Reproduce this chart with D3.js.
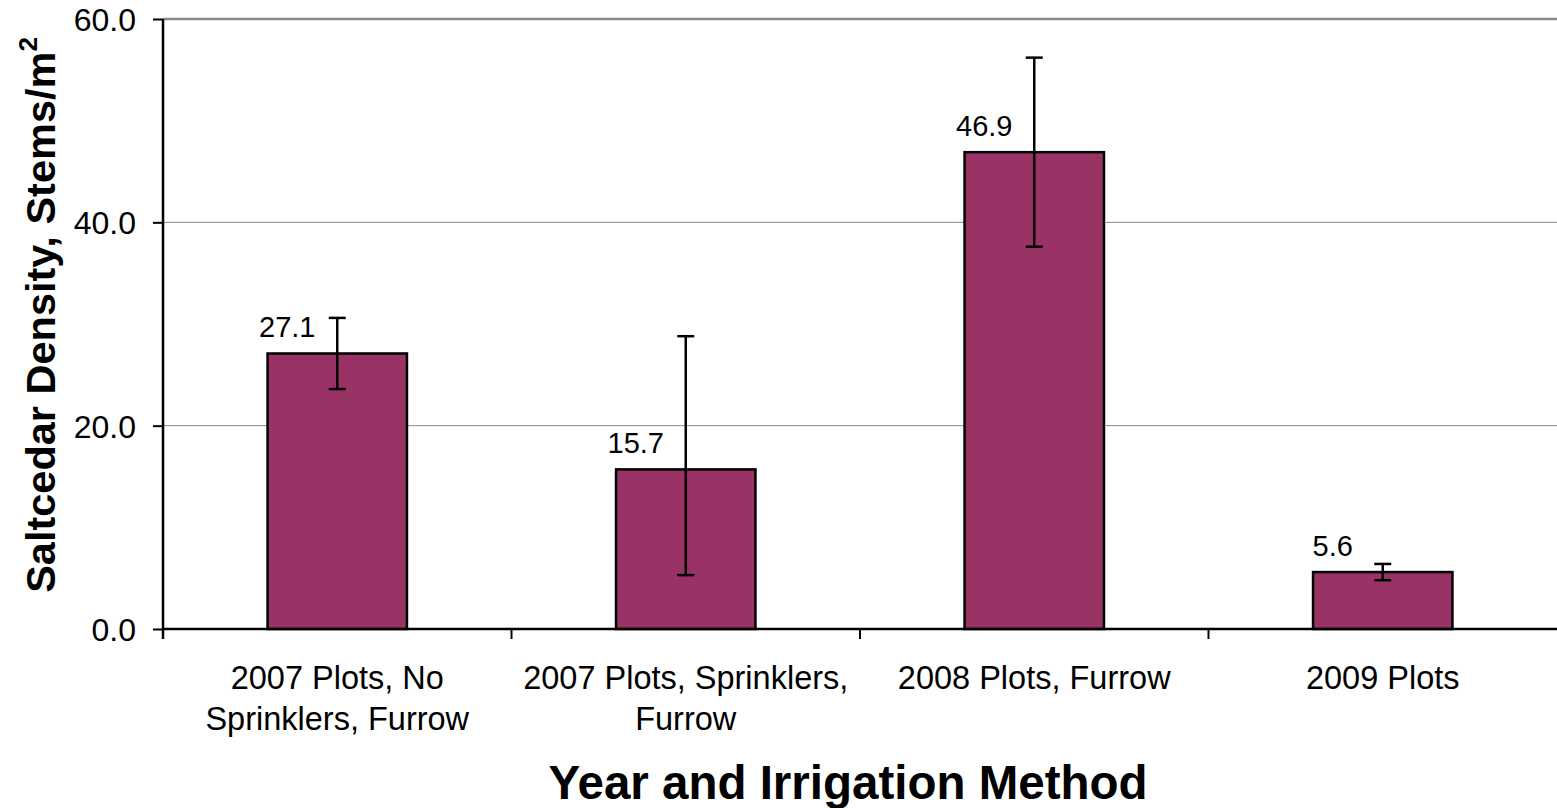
<!DOCTYPE html>
<html>
<head>
<meta charset="utf-8">
<script src="https://cdn.jsdelivr.net/npm/d3@7"></script>
<style>
  html, body { margin: 0; padding: 0; background: #fff; }
  svg { display: block; font-family: "Liberation Sans", Arial, sans-serif; }
</style>
</head>
<body>
<div id="chart"></div>
<script>
(function() {
    // data
    const categories = [
        ["2007 Plots, No", "Sprinklers, Furrow"],
        ["2007 Plots, Sprinklers,", "Furrow"],
        ["2008 Plots, Furrow"],
        ["2009 Plots"]
    ];
    const density = [27.1, 15.7, 46.9, 5.6];
    const errUpper = [30.6, 28.8, 56.2, 6.4];
    const errLower = [23.6, 5.3, 37.6, 4.8];
    const yTicks = [0, 20, 40, 60];

    const W = 1557, H = 808;
    const margin = {top: 19, right: 0, bottom: 179, left: 163};
    const width = W - margin.left - margin.right;
    const height = H - margin.top - margin.bottom;

    const svg = d3.select("#chart")
        .append("svg")
        .attr("width", W)
        .attr("height", H);

    const g = svg.append("g")
        .attr("transform", `translate(${margin.left},${margin.top})`);

    const keys = categories.map((c, i) => i);

    const x = d3.scaleBand()
        .domain(keys)
        .range([0, width])
        .paddingInner(0.6)
        .paddingOuter(0.3);

    // full-band scale used for the category boundary ticks
    const xBand = d3.scaleBand().domain(keys).range([0, width]);

    const y = d3.scaleLinear()
        .domain([0, 60])
        .range([height, 0]);

    // gridlines
    g.append("g")
        .selectAll("line")
        .data(yTicks.filter(d => d > 0))
        .enter()
        .append("line")
        .attr("x1", 0)
        .attr("x2", width)
        .attr("y1", d => y(d))
        .attr("y2", d => y(d))
        .attr("stroke", "#8a8a8a")
        .attr("stroke-width", d => d === 60 ? 2.5 : 1);

    // bars
    g.selectAll("rect.bar")
        .data(density)
        .enter()
        .append("rect")
        .attr("class", "bar")
        .attr("x", (d, i) => x(i))
        .attr("y", d => y(d))
        .attr("width", x.bandwidth())
        .attr("height", d => y(0) - y(d))
        .attr("fill", "#993366")
        .attr("stroke", "#000")
        .attr("stroke-width", 2.5);

    // error bars
    const err = g.append("g")
        .attr("stroke", "#000")
        .attr("stroke-width", 2.5);

    density.forEach((d, i) => {
        const cx = x(i) + x.bandwidth() / 2;
        err.append("line")
            .attr("x1", cx).attr("x2", cx)
            .attr("y1", y(errUpper[i])).attr("y2", y(errLower[i]));
        [errUpper[i], errLower[i]].forEach(v => {
            err.append("line")
                .attr("x1", cx - 8.5).attr("x2", cx + 8.5)
                .attr("y1", y(v)).attr("y2", y(v));
        });
    });

    // value labels
    g.selectAll("text.value")
        .data(density)
        .enter()
        .append("text")
        .attr("class", "value")
        .attr("x", (d, i) => x(i) + x.bandwidth() / 2 - 50)
        .attr("y", d => y(d) - 16)
        .attr("text-anchor", "middle")
        .style("font-size", "29px")
        .style("fill", "#000")
        .text(d => d.toFixed(1));

    // y axis
    const yAxis = g.append("g")
        .call(d3.axisLeft(y)
            .tickValues(yTicks)
            .tickSize(10)
            .tickPadding(17)
            .tickFormat(d => d.toFixed(1)));
    yAxis.select(".domain")
        .attr("d", `M0,${height + 10}V0`)
        .attr("stroke", "#000")
        .attr("stroke-width", 2.5);
    yAxis.selectAll(".tick line").attr("stroke", "#000").attr("stroke-width", 2);
    yAxis.selectAll(".tick text")
        .attr("dy", "0.36em")
        .style("font-family", "'Liberation Sans', Arial, sans-serif")
        .style("font-size", "32px")
        .style("fill", "#000");

    // x axis baseline and boundary ticks
    g.append("line")
        .attr("x1", 0).attr("x2", width)
        .attr("y1", height).attr("y2", height)
        .attr("stroke", "#000")
        .attr("stroke-width", 2.5);

    g.append("g")
        .selectAll("line")
        .data(keys.slice(1))
        .enter()
        .append("line")
        .attr("x1", d => xBand(d)).attr("x2", d => xBand(d))
        .attr("y1", height).attr("y2", height + 10)
        .attr("stroke", "#000")
        .attr("stroke-width", 2);

    // category labels
    const catLabels = g.append("g")
        .selectAll("text")
        .data(categories)
        .enter()
        .append("text")
        .attr("x", (d, i) => xBand(i) + xBand.bandwidth() / 2)
        .attr("y", height + 60)
        .attr("text-anchor", "middle")
        .style("font-size", "32.5px")
        .style("fill", "#000");

    catLabels.selectAll("tspan")
        .data(d => d)
        .enter()
        .append("tspan")
        .attr("x", function() { return d3.select(this.parentNode).attr("x"); })
        .attr("dy", (d, i) => i === 0 ? 0 : 41)
        .text(d => d);

    // axis titles
    svg.append("text")
        .attr("x", 848)
        .attr("y", 799)
        .attr("text-anchor", "middle")
        .style("font-size", "47.5px")
        .style("font-weight", "bold")
        .style("fill", "#000")
        .text("Year and Irrigation Method");

    const yTitle = svg.append("text")
        .attr("transform", "translate(55, 315) rotate(-90)")
        .attr("text-anchor", "middle")
        .style("font-size", "41.5px")
        .style("font-weight", "bold")
        .style("fill", "#000");
    yTitle.append("tspan").text("Saltcedar Density, Stems/m");
    yTitle.append("tspan")
        .attr("dy", -18)
        .style("font-size", "26px")
        .text("2");
})();
</script>
</body>
</html>
